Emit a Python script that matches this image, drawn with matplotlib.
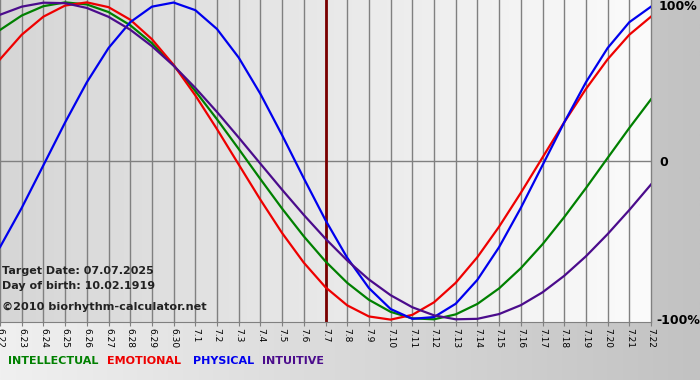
import numpy as np
import matplotlib.pyplot as plt
from matplotlib.colors import LinearSegmentedColormap

# day labels, 6.22 .. 7.22
days = ["6.22", "6.23", "6.24", "6.25", "6.26", "6.27", "6.28", "6.29", "6.30",
        "7.1", "7.2", "7.3", "7.4", "7.5", "7.6", "7.7", "7.8", "7.9", "7.10",
        "7.11", "7.12", "7.13", "7.14", "7.15", "7.16", "7.17", "7.18", "7.19",
        "7.20", "7.21", "7.22"]

# values, -1 .. 1
intellectual = [0.826, 0.917, 0.976, 1.000, 0.987, 0.939, 0.856, 0.743, 0.603, 0.441,
                0.263, 0.076, -0.114, -0.300, -0.475, -0.633, -0.768, -0.875, -0.951,
                -0.992, -0.998, -0.967, -0.901, -0.803, -0.676, -0.525, -0.354, -0.171,
                0.019, 0.208, 0.389]
emotional = [0.641, 0.796, 0.910, 0.980, 1.000, 0.970, 0.891, 0.768, 0.606, 0.414,
             0.201, -0.022, -0.244, -0.454, -0.641, -0.796, -0.910, -0.980, -1.000,
             -0.970, -0.891, -0.768, -0.606, -0.414, -0.201, 0.022, 0.244, 0.454,
             0.641, 0.796, 0.910]
physical = [-0.543, -0.296, -0.027, 0.243, 0.496, 0.712, 0.875, 0.973, 0.999, 0.951,
            0.832, 0.652, 0.423, 0.163, -0.109, -0.373, -0.610, -0.801, -0.933,
            -0.995, -0.984, -0.900, -0.749, -0.543, -0.296, -0.027, 0.243, 0.496,
            0.712, 0.875, 0.973]
intuitive = [0.922, 0.973, 0.998, 0.995, 0.965, 0.909, 0.828, 0.724, 0.601, 0.461,
             0.309, 0.148, -0.017, -0.181, -0.340, -0.490, -0.627, -0.747, -0.846,
             -0.922, -0.973, -0.998, -0.995, -0.965, -0.909, -0.828, -0.724, -0.601,
             -0.461, -0.309, -0.148]

target_day = "7.7"

series = [("INTELLECTUAL", intellectual, "#008000"),
          ("EMOTIONAL", emotional, "#ee0000"),
          ("PHYSICAL", physical, "#0000ee"),
          ("INTUITIVE", intuitive, "#4b0c8c")]

W, H = 700, 380
fig = plt.figure(figsize=(W / 100, H / 100), dpi=100)

# grey gradient behind everything
bg = fig.add_axes([0, 0, 1, 1], zorder=-2)
bg.imshow(np.linspace(0, 1, 256)[None, :], aspect="auto", extent=[0, 1, 0, 1],
          cmap=LinearSegmentedColormap.from_list("bg", ["#f0f0f0", "#c2c2c2"]))
bg.axis("off")

ax = fig.add_axes([0, 1 - 322 / H, 651 / W, 322 / H])
x = np.arange(len(days))
ax.set_xlim(0, len(days) - 1)
ax.set_ylim(-1.015, 1.015)

ax.imshow(np.linspace(0, 1, 256)[None, :], aspect="auto", zorder=0,
          extent=[0, len(days) - 1, -1.015, 1.015],
          cmap=LinearSegmentedColormap.from_list("pa", ["#d6d6d6", "#fbfbfb"]))

for i in x:
    ax.axvline(i, color="#808080", lw=1, zorder=1, clip_on=False)
ax.axhline(0, color="#808080", lw=1, zorder=1)
ax.axvline(days.index(target_day), color="#7a0000", lw=2, zorder=2)

for name, vals, col in series:
    ax.plot(x, vals, color=col, lw=1.6, zorder=3)

ax.set_xticks(x)
ax.set_xticklabels(days, rotation=270, fontsize=6.5)
ax.tick_params(axis="x", length=3, color="#808080", pad=1)
ax.set_yticks([])
for s in ["top", "left", "right"]:
    ax.spines[s].set_visible(False)
ax.spines["bottom"].set_color("#808080")

# right-hand scale
fig.text(659 / W, 1 - 7 / H, "100%", fontsize=9, weight="bold", va="center")
fig.text(659 / W, 1 - 162 / H, "0", fontsize=9, weight="bold", va="center")
fig.text(656 / W, 1 - 321 / H, "-100%", fontsize=9, weight="bold", va="center")

# info text over the plot
fig.text(2 / W, 1 - 271 / H, "Target Date: 07.07.2025", fontsize=8,
         weight="bold", color="#222222", va="center", zorder=5)
fig.text(2 / W, 1 - 286 / H, "Day of birth: 10.02.1919", fontsize=8,
         weight="bold", color="#222222", va="center", zorder=5)
fig.text(2 / W, 1 - 307 / H, "©2010 biorhythm-calculator.net", fontsize=8.1,
         weight="bold", color="#222222", va="center", zorder=5)

# legend words
legend_x = [8, 107, 193, 262]
for (name, vals, col), lx in zip(series, legend_x):
    fig.text(lx / W, 1 - 361 / H, name, fontsize=8, weight="bold", color=col,
             va="center")

fig.savefig("out.png", dpi=100)
